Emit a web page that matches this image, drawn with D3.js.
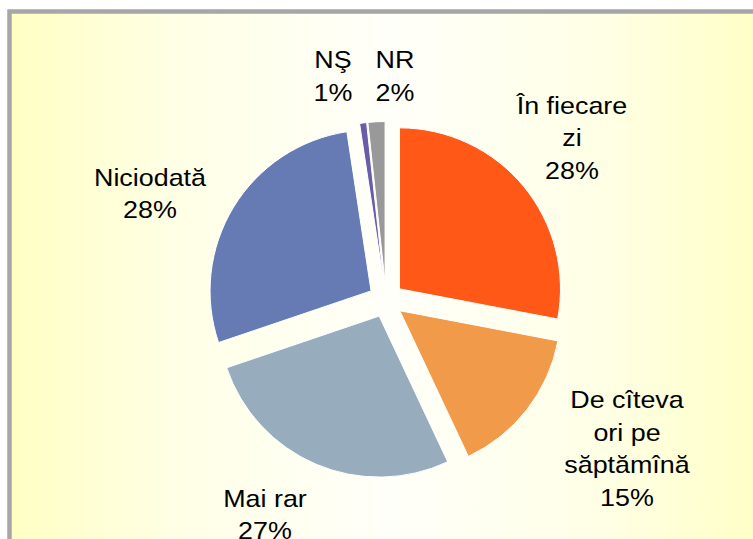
<!DOCTYPE html>
<html>
<head>
<meta charset="utf-8">
<script src="https://cdn.jsdelivr.net/npm/d3@7"></script>
<style>
  html, body { margin: 0; padding: 0; background: #ffffff; }
  svg { display: block; }
  text { font-family: "Liberation Sans", Arial, sans-serif; fill: #000; }
</style>
</head>
<body>
<div id="chart"></div>
<script>
// ---- data ----
const categories = ["În fiecare zi", "De cîteva ori pe săptămînă", "Mai rar", "Niciodată", "NŞ", "NR"];
const labelLines = [["În fiecare", "zi"], ["De cîteva", "ori pe", "săptămînă"], ["Mai rar"], ["Niciodată"], ["NŞ"], ["NR"]];
const values = [28.0, 15.0, 26.8, 27.8, 0.7, 1.7];
const colors = ["#FF5817", "#F09A4A", "#97ADBE", "#667BB4", "#6A5CA8", "#999999"];

// ---- layout ----
const W = 753, H = 539;
const cx = 386, cy = 300, R = 161, explode = 17.5;
const lineH = 32.5, fontSize = 24, stretch = 1.12;
// label block centres relative to pie centre
const labelOffsets = [[186, -162.5], [241, 148.5], [-121, 214.5], [-236, -106.5], [-53, -224], [9, -224]];

const svg = d3.select("#chart").append("svg").attr("width", W).attr("height", H);

const defs = svg.append("defs");
const grad = defs.append("linearGradient").attr("id", "bg")
  .attr("gradientUnits", "userSpaceOnUse").attr("x1", 9).attr("x2", 765).attr("y1", 0).attr("y2", 0);
[[0, "#FFFFC4"], [0.22, "#FFFFE6"], [0.5, "#FFFFFA"], [0.78, "#FFFFE6"], [1, "#FFFFC6"]]
  .forEach(([o, c]) => grad.append("stop").attr("offset", o).attr("stop-color", c));

svg.append("rect").attr("x", 9.5).attr("y", 11.5).attr("width", W + 20).attr("height", H + 20)
  .attr("fill", "url(#bg)").attr("stroke", "#A6A6A6").attr("stroke-width", 4.5);

const pie = d3.pie().sort(null).value(d => d)(values);
const arc = d3.arc().innerRadius(0).outerRadius(R);
const total = d3.sum(values);

const g = svg.append("g").attr("transform", `translate(${cx},${cy})`);
g.selectAll("path.slice").data(pie).join("path")
  .attr("class", "slice")
  .attr("transform", d => {
    const a = (d.startAngle + d.endAngle) / 2;
    return `translate(${explode * Math.sin(a)},${-explode * Math.cos(a)})`;
  })
  .attr("d", arc)
  .attr("fill", (d, i) => colors[i])
  .attr("stroke", "#FFFFFF").attr("stroke-width", 1);

const labels = g.selectAll("g.lbl").data(pie).join("g").attr("class", "lbl")
  .attr("transform", (d, i) => `translate(${labelOffsets[i][0]},${labelOffsets[i][1]})`);
labels.each(function(d, i) {
  const lines = labelLines[i].concat([Math.round(values[i] / total * 100) + "%"]);
  const n = lines.length;
  d3.select(this).selectAll("text").data(lines).join("text")
    .attr("text-anchor", "middle")
    .attr("font-size", fontSize)
    .attr("transform", (t, j) => `translate(0,${(j - (n - 1) / 2) * lineH + 8.5}) scale(${stretch},1)`)
    .text(t => t);
});
</script>
</body>
</html>
